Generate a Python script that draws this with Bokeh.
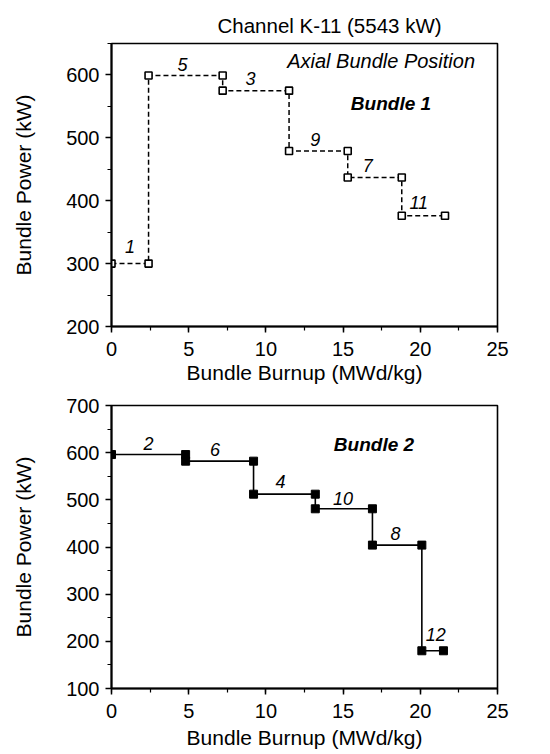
from bokeh.plotting import figure
from bokeh.layouts import column
from bokeh.models import Range1d, SingleIntervalTicker, ColumnDataSource
from bokeh.core.properties import value
from bokeh.embed import file_html
from bokeh.resources import INLINE

FONT = "Liberation Sans"

# ---- data ----
b1_burnup = [0, 2.4, 2.4, 7.2, 7.2, 11.5, 11.5, 15.3, 15.3, 18.8, 18.8, 21.6]
b1_power = [300, 300, 599, 599, 575, 575, 479, 479, 437, 437, 376, 376]
b1_labels = ["1", "5", "3", "9", "7", "11"]
b1_label_x = [1.2, 4.6, 9.0, 13.2, 16.6, 19.9]
b1_label_y = [327, 616, 595, 498, 456, 397]

b2_burnup = [0, 4.8, 4.8, 9.2, 9.2, 13.2, 13.2, 16.9, 16.9, 20.1, 20.1, 21.5]
b2_power = [596, 596, 582, 582, 512, 512, 481, 481, 404, 404, 180, 180]
b2_labels = ["2", "6", "4", "10", "8", "12"]
b2_label_x = [2.4, 6.7, 10.95, 15.0, 18.4, 21.0]
b2_label_y = [620, 607, 538, 502, 428, 214]

x_ticks_interval = 5
y_ticks_interval = 100


def style(p):
    p.xgrid.visible = False
    p.ygrid.visible = False
    p.outline_line_color = "black"
    p.outline_line_width = 1.6
    p.xaxis.ticker = SingleIntervalTicker(interval=x_ticks_interval, num_minor_ticks=2)
    p.yaxis.ticker = SingleIntervalTicker(interval=y_ticks_interval, num_minor_ticks=2)
    for ax in (p.xaxis, p.yaxis):
        ax.axis_line_width = 2
        ax.axis_line_color = "black"
        ax.major_tick_line_color = "black"
        ax.minor_tick_line_color = "black"
        ax.major_tick_line_width = 1.5
        ax.minor_tick_line_width = 1.2
        ax.major_tick_in = 0
        ax.major_tick_out = 6
        ax.minor_tick_in = 0
        ax.minor_tick_out = 4
        ax.major_label_text_font = FONT
        ax.major_label_text_font_size = "20px"
        ax.major_label_text_color = "black"
        ax.axis_label_text_font = FONT
        ax.axis_label_text_font_size = "21px"
        ax.axis_label_text_font_style = "normal"
        ax.axis_label_text_color = "black"
    p.xaxis.major_label_standoff = 9
    p.xaxis.axis_label_standoff = 2
    p.yaxis.major_label_standoff = 6
    p.yaxis.axis_label_standoff = 28
    p.xaxis.axis_label = "Bundle Burnup (MWd/kg)"
    p.yaxis.axis_label = "Bundle Power (kW)"


# ---- top panel: Bundle 1 ----
p1 = figure(width=550, height=386, x_range=Range1d(0, 25), y_range=Range1d(200, 650),
            output_backend="svg", toolbar_location=None,
            min_border_left=111, min_border_right=51, min_border_top=43, min_border_bottom=59)
style(p1)
p1.title.text = "Channel K-11 (5543 kW)"
p1.title.align = "left"
p1.title.offset = 106
p1.title.text_font = FONT
p1.title.text_font_size = "20.5px"
p1.title.text_font_style = "normal"
p1.title.text_color = "black"
p1.title.vertical_align = "top"
p1.title.standoff = 10

p1.line(b1_burnup, b1_power, line_color="black", line_width=1.5, line_dash="5 3")
p1.scatter(b1_burnup, b1_power, marker="square", size=7, fill_color="white",
           line_color="black", line_width=1.6)
src1 = ColumnDataSource(dict(x=b1_label_x, y=b1_label_y, t=b1_labels))
p1.text(x="x", y="y", text="t", source=src1, text_font=value(FONT), text_font_size="18px",
        text_font_style="italic", text_align="center", text_baseline="middle", text_color="black")
p1.text(x=[17.46], y=[622], text=["Axial Bundle Position"], text_font=value(FONT),
        text_font_size="20px", text_font_style="italic", text_align="center",
        text_baseline="middle", text_color="black")
p1.text(x=[18.1], y=[554], text=["Bundle 1"], text_font=value(FONT),
        text_font_size="19px", text_font_style="bold italic", text_align="center",
        text_baseline="middle", text_color="black")

# ---- bottom panel: Bundle 2 ----
p2 = figure(width=550, height=368, x_range=Range1d(0, 25), y_range=Range1d(100, 700),
            output_backend="svg", toolbar_location=None,
            min_border_left=109, min_border_right=53, min_border_top=19, min_border_bottom=66)
style(p2)
p2.xaxis.axis_label_standoff = 5
p2.line(b2_burnup, b2_power, line_color="black", line_width=1.6)
p2.scatter(b2_burnup, b2_power, marker="square", size=8, fill_color="black",
           line_color="black", line_width=1)
src2 = ColumnDataSource(dict(x=b2_label_x, y=b2_label_y, t=b2_labels))
p2.text(x="x", y="y", text="t", source=src2, text_font=value(FONT), text_font_size="18px",
        text_font_style="italic", text_align="center", text_baseline="middle", text_color="black")
p2.text(x=[17.0], y=[617], text=["Bundle 2"], text_font=value(FONT),
        text_font_size="19px", text_font_style="bold italic", text_align="center",
        text_baseline="middle", text_color="black")

layout = column(p1, p2, spacing=0)
open("out.html", "w").write(file_html(layout, INLINE))
